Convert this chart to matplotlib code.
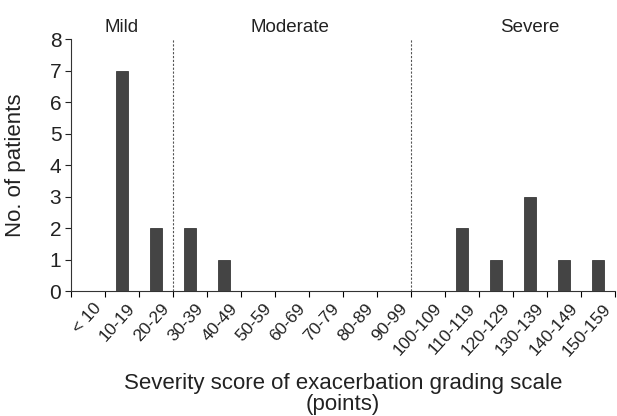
import numpy as np
import matplotlib.pyplot as plt
from matplotlib.transforms import ScaledTranslation

plt.rcParams['font.family'] = ['Liberation Sans', 'DejaVu Sans']

categories = ['< 10', '10-19', '20-29', '30-39', '40-49', '50-59', '60-69', '70-79',
              '80-89', '90-99', '100-109', '110-119', '120-129', '130-139', '140-149', '150-159']
patients = [0, 7, 2, 2, 1, 0, 0, 0, 0, 0, 0, 2, 1, 3, 1, 1]
group_names = ['Mild', 'Moderate', 'Severe']
group_bounds = [2.5, 9.5]

fig = plt.figure(figsize=(6.17, 4.16), dpi=100)
ax = fig.add_axes([0.1151, 0.300, 0.8817, 0.6058])

x = np.arange(len(categories))
ax.bar(x, patients, width=0.38, color='#444444', edgecolor='#3a3a3a', linewidth=0.6, zorder=3)

for b in group_bounds:
    ax.plot([b, b], [0, 8], color='#555555', linestyle=(0, (2, 1.5)), linewidth=0.8,
            zorder=2, clip_on=False)

label_pos = [1.0, 5.94, 13.0]
for name, pos in zip(group_names, label_pos):
    ax.text(pos, 8.22, name, ha='center', va='baseline', fontsize=13.5, color='#222222')

ax.set_xlim(-0.5, 15.5)
ax.set_ylim(0, 8)
ax.set_yticks(range(9))
ax.tick_params(axis='y', labelsize=15, length=4, width=0.8, pad=3, colors='#222222')

# boundaries get the tick marks, category centres get the labels
ax.set_xticks(np.arange(-0.5, 16, 1))
ax.set_xticklabels([])
ax.set_xticks(x, minor=True)
ax.set_xticklabels(categories, minor=True, rotation=48, ha='right', va='top',
                   rotation_mode='anchor', fontsize=12.5, color='#222222')
ax.tick_params(axis='x', which='major', length=4, width=0.8, direction='out')
ax.tick_params(axis='x', which='minor', length=0, pad=7)
shift = ScaledTranslation(5 / 100, 0, fig.dpi_scale_trans)
for lbl in ax.get_xticklabels(minor=True):
    lbl.set_transform(lbl.get_transform() + shift)

for side in ['top', 'right']:
    ax.spines[side].set_visible(False)
for side in ['left', 'bottom']:
    ax.spines[side].set_linewidth(0.8)
    ax.spines[side].set_color('#333333')

ax.set_ylabel('No. of patients', fontsize=16, color='#222222')
ax.yaxis.set_label_coords(-0.082, 0.5)
fig.text(0.556, 0.103, 'Severity score of exacerbation grading scale\n(points)',
         ha='center', va='top', fontsize=16, color='#222222', linespacing=1.0)

fig.savefig('out.png', dpi=100)
